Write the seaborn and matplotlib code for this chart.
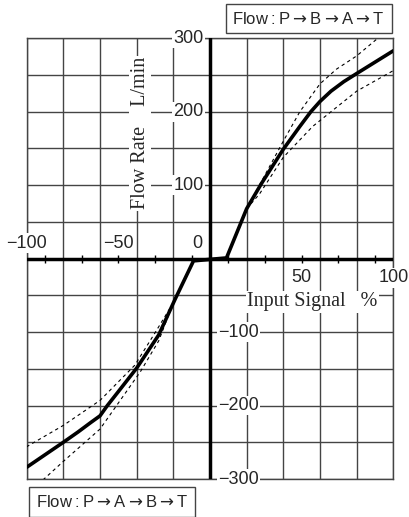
import numpy as np
import pandas as pd
import matplotlib
matplotlib.use("Agg")
import matplotlib.pyplot as plt
import seaborn as sns

# Flow rate vs input signal
signal_main = [-100, -80, -72, -65, -60, -56, -50, -40, -28, -19, -9,
               9, 20, 28, 40, 49, 55, 60, 66, 73, 80, 100]
flow_main = [-284, -250, -236, -223, -214, -200, -181, -149, -104, -55, -3,
             1, 68, 102, 149, 180, 200, 214, 228, 241, 252, 283]

# tolerance band, positive side
signal_pos_hi = [20, 40, 49, 60, 69, 80, 92]
flow_pos_hi = [68, 160, 200, 238, 258, 276, 301]
signal_pos_lo = [20, 27, 40, 56, 80, 100]
flow_pos_lo = [68, 88, 138, 180, 228, 256]

# tolerance band, negative side
signal_neg_hi = [-20, -30, -41, -60, -80, -100]
flow_neg_hi = [-60, -101, -145, -193, -227, -256]
signal_neg_lo = [-20, -28, -38, -60, -80, -91]
flow_neg_lo = [-60, -112, -154, -232, -276, -301]

x_labels_top = ["\u2212100", "\u221250", "0"]
x_labels_top_pos = [-100, -50, -7]
x_labels_bottom = ["50", "100"]
x_labels_bottom_pos = [50, 100]
y_labels_pos = [300, 200, 100]
y_labels_neg = [-100, -200, -300]

sns.set_style("white")
plt.rcParams['font.family'] = ['Liberation Sans', 'DejaVu Sans']
plt.rcParams['mathtext.fontset'] = 'dejavusans'

fig = plt.figure(figsize=(4.09, 5.17), dpi=100)
ax = fig.add_axes([26.7 / 409, 1 - 479 / 517, 366.6 / 409, 440.7 / 517])

grid_col = "#444444"
ax.set_xlim(-100, 100)
ax.set_ylim(-300, 300)
ax.set_xticks(np.arange(-100, 101, 20))
ax.set_yticks(np.arange(-300, 301, 50))
ax.grid(True, color=grid_col, linewidth=1.0)
ax.tick_params(length=0, labelbottom=False, labelleft=False)
for s in ax.spines.values():
    s.set_color(grid_col)
    s.set_linewidth(1.0)

# main axes through zero
ax.axhline(0, color="black", linewidth=2.5, zorder=3)
ax.axvline(0, color="black", linewidth=2.5, zorder=3)
ax.plot(np.arange(-90, 100, 20), np.zeros(10), linestyle="none", marker="|",
        markersize=6, markeredgewidth=1.0, color="black", zorder=3)

# dashed tolerance curves
for sx, fy in [(signal_pos_hi, flow_pos_hi), (signal_pos_lo, flow_pos_lo),
               (signal_neg_hi, flow_neg_hi), (signal_neg_lo, flow_neg_lo)]:
    d = pd.DataFrame({"signal": sx, "flow": fy})
    sns.lineplot(data=d, x="signal", y="flow", sort=False, estimator=None,
                 color="black", linewidth=0.8, linestyle=(0, (3, 3)), ax=ax, zorder=4)

# main curve
df = pd.DataFrame({"signal": signal_main, "flow": flow_main})
sns.lineplot(data=df, x="signal", y="flow", sort=False, estimator=None,
             color="black", linewidth=2.6, ax=ax, zorder=5)
ax.set_xlabel("")
ax.set_ylabel("")

box = dict(facecolor="white", edgecolor="none", pad=1.0)
fs = 13
for lab, xp in zip(x_labels_top, x_labels_top_pos):
    ax.text(xp, 21, lab, ha="center", va="center", fontsize=fs, bbox=box, zorder=6)
for lab, xp in zip(x_labels_bottom, x_labels_bottom_pos):
    ax.text(xp, -26, lab, ha="center", va="center", fontsize=fs, bbox=box, zorder=6)
for v in y_labels_pos:
    ax.text(-3.5, v, str(v), ha="right", va="center", fontsize=fs, bbox=box, zorder=6)
for v in y_labels_neg:
    ax.text(4.5, v, "\u2212" + str(-v), ha="left", va="center", fontsize=fs, bbox=box, zorder=6)

serif = ['Liberation Serif', 'DejaVu Serif']
ax.text(56, -59, "Input Signal   %", ha="center", va="center", fontsize=14.5,
        family=serif, bbox=box, zorder=6)
ax.text(-38, 171, "Flow Rate    L/min", ha="center", va="center", fontsize=14.5,
        family=serif, rotation=90, bbox=box, zorder=6)

legbox = dict(facecolor="white", edgecolor="#444444", linewidth=1.0,
              boxstyle="square,pad=0.4")
arr = r"$\rightarrow$"
fig.text(0.755, 0.964, "Flow\u2009:\u2009P" + arr + "B" + arr + "A" + arr + "T",
         ha="center", va="center", fontsize=12, bbox=legbox)
fig.text(0.274, 0.029, "Flow\u2009:\u2009P" + arr + "A" + arr + "B" + arr + "T",
         ha="center", va="center", fontsize=12, bbox=legbox)

fig.savefig("out.png", dpi=100)
